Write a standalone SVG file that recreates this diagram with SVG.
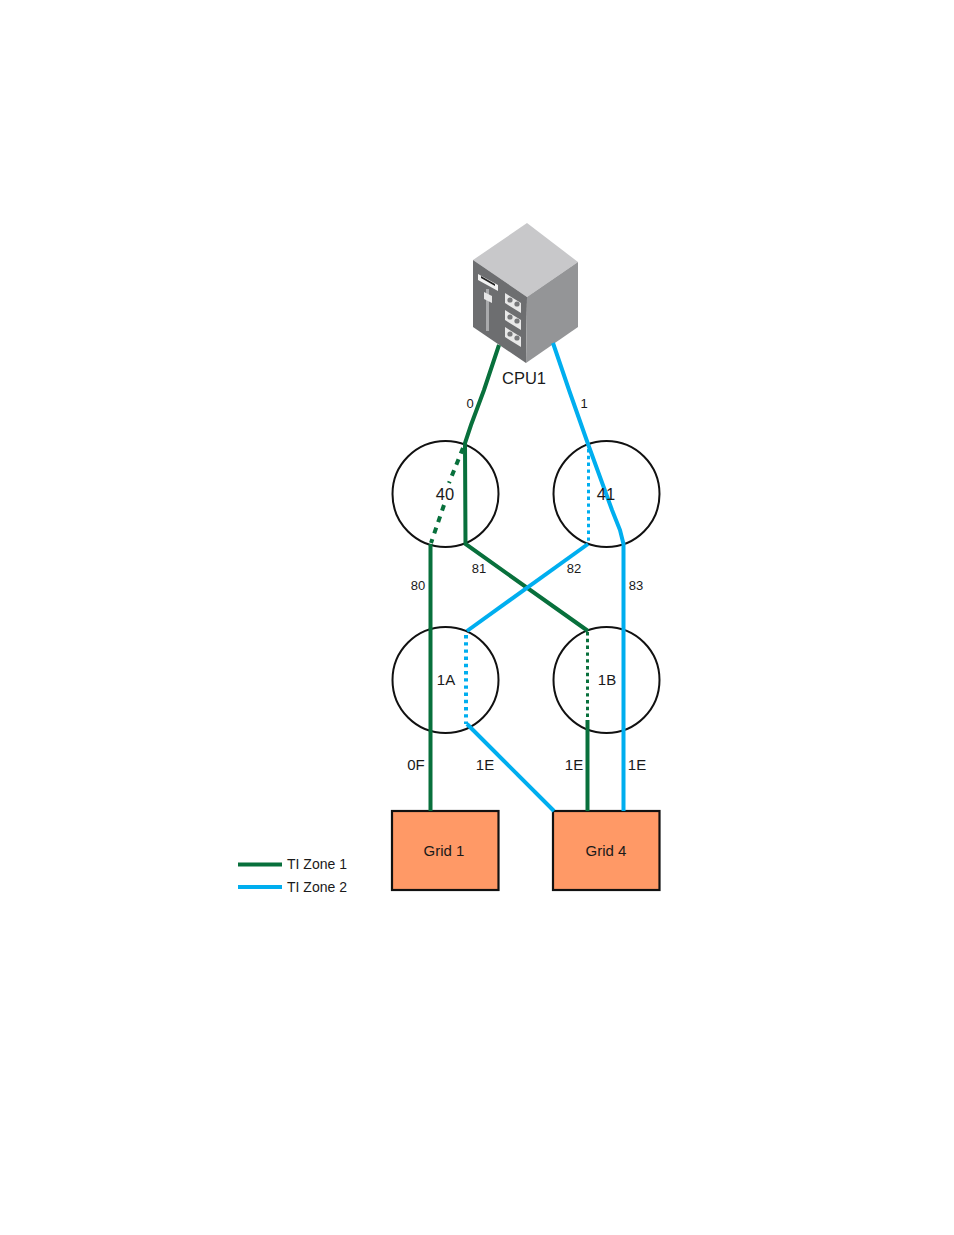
<svg xmlns="http://www.w3.org/2000/svg" width="954" height="1235" viewBox="0 0 954 1235">
  <style>
    text { font-family: "Liberation Sans", Arial, sans-serif; fill: #1a1a1a; text-anchor: middle; }
    .sm { font-size: 13px; }
    .md { font-size: 15px; }
    .lg { font-size: 16.5px; }
    .lgd { font-size: 14px; }
    .ring { fill: #fff; stroke: #111; stroke-width: 2; }
    .box { fill: #ff9966; stroke: #111; stroke-width: 2.2; }
    .z1 { stroke: #08703c; fill: none; stroke-width: 4; }
    .z2 { stroke: #00aeef; fill: none; stroke-width: 4; }
    .dot { stroke-width: 4; stroke-dasharray: 3.4 3.8; }
    .thin { stroke-width: 3; stroke-dasharray: 3.4 3.4; }
    .long { stroke-width: 4; stroke-dasharray: 6 6; }
  </style>

  <rect width="954" height="1235" fill="#fff"/>

  <g id="cpu1">
    <polygon points="527,223 578,262 527,297 473,260" fill="#c8c8ca"/>
    <polygon points="473,260 527,297 526,363 473,327" fill="#6d6e70"/>
    <polygon points="527,297 578,262 578,327 526,363" fill="#949597"/>
    <polygon points="478,274 498,285 498,291 478,280" fill="#f2f2f2"/>
    <polygon points="481,276 495,284 495,286 481,278" fill="#222"/>
    <rect x="486" y="289" width="3" height="42" fill="#a9aaac"/>
    <polygon points="484,292 492,296 492,303 484,299" fill="#e6e6e6"/>
    <g fill="#e8e8e8">
      <polygon points="505,293 521,303 521,313 505,303"/>
      <polygon points="505,310 521,320 521,330 505,320"/>
      <polygon points="505,327 521,337 521,347 505,337"/>
    </g>
    <g fill="#77787a">
      <circle cx="510" cy="300" r="2.6"/><circle cx="517" cy="304" r="2.6"/>
      <circle cx="510" cy="317" r="2.6"/><circle cx="517" cy="321" r="2.6"/>
      <circle cx="510" cy="334" r="2.6"/><circle cx="517" cy="338" r="2.6"/>
    </g>
    <text class="lg" x="524" y="384">CPU1</text>
  </g>

  <g id="node-40"><circle class="ring" cx="445.500" cy="494" r="53"/></g>
  <g id="node-41"><circle class="ring" cx="606.500" cy="494" r="53"/></g>
  <g id="node-1a"><circle class="ring" cx="445.500" cy="680" r="53"/></g>
  <g id="node-1b"><circle class="ring" cx="606.500" cy="680" r="53"/></g>
  <g id="grid-1"><rect class="box" x="392" y="811" width="106.500" height="79"/></g>
  <g id="grid-4"><rect class="box" x="553" y="811" width="106.500" height="79"/></g>

  <g id="connectors">
    <!-- zone 1 -->
    <path class="z1" d="M499,345 L484,390 L471,425 L465,443 L465.500,544 L588,631"/>
    <path class="z1" d="M430.500,544 V811"/>
    <path class="z1" d="M587.500,720 V811"/>
    <path class="z1 long" d="M463,448 L449,483"/>
    <path class="z1 long" d="M444,505 L431,543"/>
    <path class="z1 thin" d="M587.500,632 V720"/>
    <!-- zone 2 -->
    <path class="z2" d="M553,343 L569,390 L588,444 L612,510 L620,530 L623.500,544 V811"/>
    <path class="z2" d="M588,544 L467,631"/>
    <path class="z2" d="M467,724 L554,811"/>
    <path class="z2 thin" d="M588.500,449 V544"/>
    <path class="z2 dot" d="M466,635 V724"/>
  </g>

  <g id="labels">
    <text class="sm" x="470" y="408">0</text>
    <text class="sm" x="584" y="408">1</text>
    <text class="lg" x="445" y="500">40</text>
    <text class="lg" x="606" y="500">41</text>
    <text class="sm" x="418" y="590">80</text>
    <text class="sm" x="479" y="573">81</text>
    <text class="sm" x="574" y="573">82</text>
    <text class="sm" x="636" y="590">83</text>
    <text class="md" x="446" y="685">1A</text>
    <text class="md" x="607" y="685">1B</text>
    <text class="md" x="416" y="770">0F</text>
    <text class="md" x="485" y="770">1E</text>
    <text class="md" x="574" y="770">1E</text>
    <text class="md" x="637" y="770">1E</text>
    <text class="md" x="444" y="856">Grid 1</text>
    <text class="md" x="606" y="856">Grid 4</text>
  </g>

  <g id="legend">
    <line class="z1" x1="238" y1="864.500" x2="282" y2="864.500"/>
    <line class="z2" x1="238" y1="887" x2="282" y2="887"/>
    <text class="lgd" x="317" y="869">TI Zone 1</text>
    <text class="lgd" x="317" y="892">TI Zone 2</text>
  </g>
</svg>
